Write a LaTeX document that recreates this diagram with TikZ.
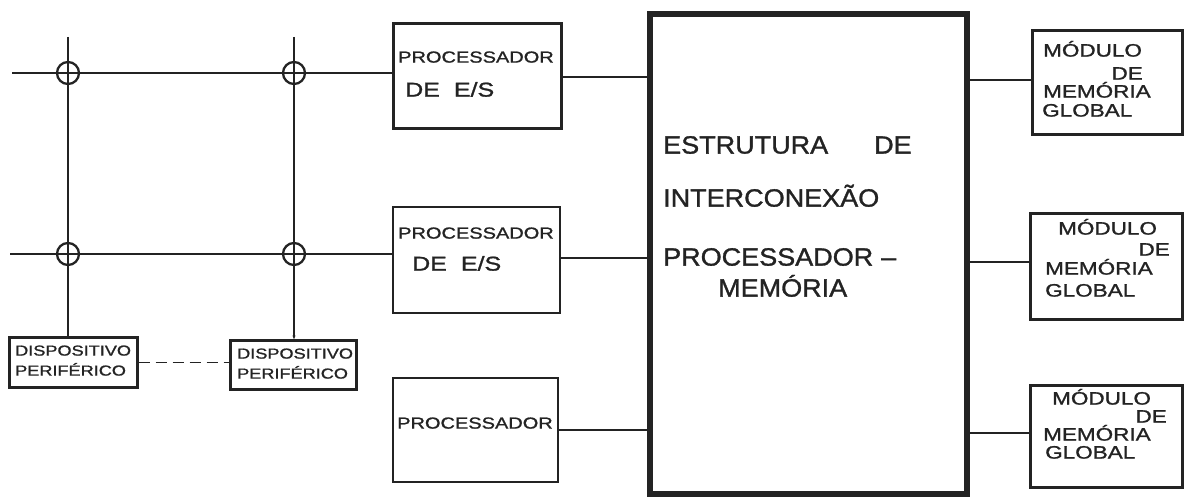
\documentclass[tikz,border=0pt]{standalone}
\usepackage{fontspec}
\usetikzlibrary{arrows.meta}
\newfontfamily\hand[FakeStretch=1.25,FakeBold=1.2]{Liberation Sans}
\newfontfamily\handc[FakeStretch=1.08,FakeBold=1.2]{Liberation Sans}
\definecolor{ink}{RGB}{35,35,35}
\begin{document}
\begin{tikzpicture}[x=1pt,y=-1pt,
  ln/.style={draw=ink, line width=1.5pt},
  blk/.style={draw=ink, line width=2.8pt, inner sep=0pt},
  junc/.style={circle, draw=ink, line width=2.3pt, minimum size=22pt, inner sep=0pt},
  txt/.style={anchor=west, inner sep=0pt, text=ink, text height=0.72em, text depth=0pt,
    font=\hand\fontsize{#1}{#1}\selectfont},
  txtc/.style={anchor=west, inner sep=0pt, text=ink, text height=0.72em, text depth=0pt,
    font=\handc\fontsize{#1}{#1}\selectfont},
  txtr/.style={txt=#1, anchor=east}
]
\fill[white] (0,0) rectangle (1185,500);
\useasboundingbox (0,0) rectangle (1185,500);

% processor boxes
\node[blk, minimum width=168pt, minimum height=105pt] (P1) at (477.5,76) {};
\node[blk, minimum width=167pt, minimum height=106pt] (P2) at (476.5,260) {};
\node[blk, minimum width=165pt, minimum height=104pt] (P3) at (475.5,430) {};

% interconnection structure
\node[draw=ink, line width=6pt, inner sep=0pt, minimum width=317pt, minimum height=480pt] (B) at (808.5,254) {};

% memory modules
\node[blk, line width=2.5pt, minimum width=150pt, minimum height=104pt] (M1) at (1107.5,82.5) {};
\node[blk, line width=2.5pt, minimum width=152pt, minimum height=106pt] (M2) at (1106.5,266.5) {};
\node[blk, line width=2.5pt, minimum width=152pt, minimum height=102pt] (M3) at (1106.5,436.5) {};

% peripheral devices
\node[blk, line width=2.2pt, minimum width=128pt, minimum height=50pt] (D1) at (73.5,362.5) {};
\node[blk, line width=2.2pt, minimum width=126pt, minimum height=49pt] (D2) at (293.5,365) {};

% bus coordinates
\coordinate (h1) at (12,73);
\coordinate (h2) at (10,254);
\coordinate (v1) at (68,37);
\coordinate (v2) at (294,37);

% buses
\draw[ln] (h1) -- (h1 -| P1.west);
\draw[ln] (h2) -- (h2 -| P2.west);
\draw[ln] (v1) -- (v1 |- D1.north);
\draw[ln, -{Stealth[length=4pt,width=3pt]}] (v2) -- (v2 |- D2.north);
\draw[ln, dash pattern=on 11pt off 6pt] (D1.east) -- (D1.east -| D2.west);

% junctions
\node[junc] (J11) at (h1 -| v1) {};
\node[junc] (J12) at (h1 -| v2) {};
\node[junc] (J21) at (h2 -| v1) {};
\node[junc] (J22) at (h2 -| v2) {};

% processor to interconnection
\coordinate (a1) at (562,77);
\coordinate (a2) at (560,258);
\coordinate (a3) at (558,430);
\draw[ln] (a1) -- (a1 -| B.west);
\draw[ln] (a2) -- (a2 -| B.west);
\draw[ln] (a3) -- (a3 -| B.west);

% interconnection to memory
\coordinate (b1) at (1032,80);
\coordinate (b2) at (1030,262);
\coordinate (b3) at (1030,433);
\draw[ln] (b1 -| B.east) -- (b1);
\draw[ln] (b2 -| B.east) -- (b2);
\draw[ln] (b3 -| B.east) -- (b3);

% texts processors
\node[txt=16] (t1a) at (398,59) {PROCESSADOR};
\node[txt=20] (t1b) at (405,93) {DE\hspace{14pt}E/S};
\node[txt=16] (t2a) at (398,235) {PROCESSADOR};
\node[txt=20] (t2b) at (412,267) {DE\hspace{14pt}E/S};
\node[txt=16] (t3a) at (397,425) {PROCESSADOR};

% texts interconnection
\node[txtc=25] (tb1) at (663,150) {ESTRUTURA\hspace{46pt}DE};
\node[txtc=25] (tb2) at (663,203) {INTERCONEXÃO};
\node[txtc=25] (tb3) at (663,262) {PROCESSADOR\hspace{8pt}–};
\node[txtc=25] (tb4) at (718,293) {MEMÓRIA};

% texts memory
\node[txt=18] (m1a) at (1043,53) {MÓDULO};
\node[txtr=18] (m1b) at (1143,76) {DE};
\node[txt=18] (m1c) at (1043,94) {MEMÓRIA};
\node[txt=18] (m1d) at (1042,113) {GLOBAL};

\node[txt=18] (m2a) at (1058,231) {MÓDULO};
\node[txtr=18] (m2b) at (1170,252) {DE};
\node[txt=18] (m2c) at (1045,271) {MEMÓRIA};
\node[txt=18] (m2d) at (1045,293) {GLOBAL};

\node[txt=18] (m3a) at (1052,401) {MÓDULO};
\node[txtr=18] (m3b) at (1167,419) {DE};
\node[txt=18] (m3c) at (1043,437) {MEMÓRIA};
\node[txt=18] (m3d) at (1045,455) {GLOBAL};

% texts devices
\node[txt=14.5] (d1a) at (15,352) {DISPOSITIVO};
\node[txt=14.5] (d1b) at (15,372) {PERIFÉRICO};
\node[txt=14.5] (d2a) at (237,355) {DISPOSITIVO};
\node[txt=14.5] (d2b) at (237,375) {PERIFÉRICO};
\end{tikzpicture}
\end{document}
